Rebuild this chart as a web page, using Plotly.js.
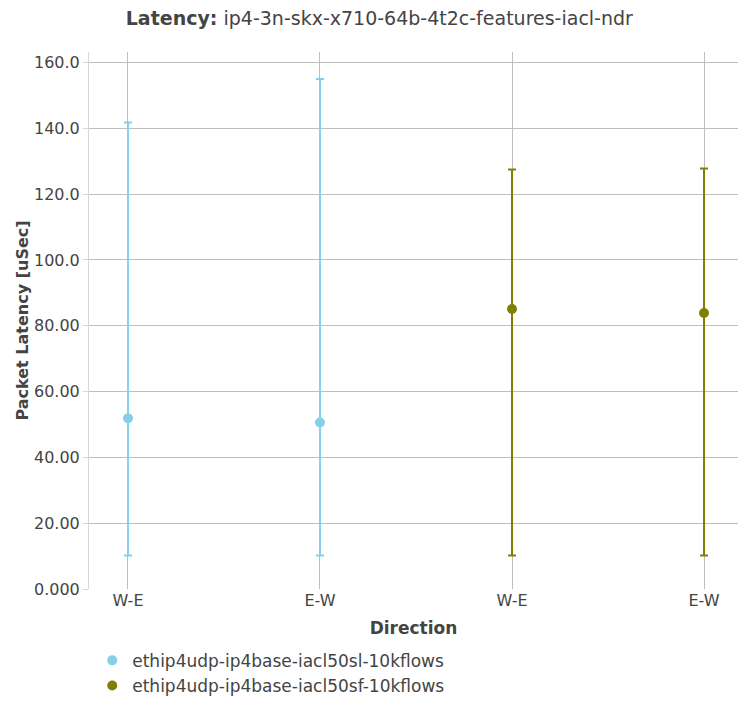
<!DOCTYPE html>
<html>
<head>
<meta charset="utf-8">
<script src="https://cdn.plot.ly/plotly-3.0.1.min.js"></script>
<style>html,body{margin:0;padding:0;background:#fff;}</style>
</head>
<body>
<div id="chart" style="width:738px;height:701px;"></div>
<script>
// Tick labels (directions) and positions
const tickPositions = [0, 1, 2, 3];
const tickLabels = ["W-E", "E-W", "W-E", "E-W"];

// Series 1: ethip4udp-ip4base-iacl50sl-10kflows
const s1Name = "ethip4udp-ip4base-iacl50sl-10kflows";
const s1X = [0, 1];
const s1Avg = [51.9, 50.6];
const s1Max = [141.8, 155.0];
const s1Min = [10.2, 10.2];

// Series 2: ethip4udp-ip4base-iacl50sf-10kflows
const s2Name = "ethip4udp-ip4base-iacl50sf-10kflows";
const s2X = [2, 3];
const s2Avg = [85.1, 83.9];
const s2Max = [127.5, 127.8];
const s2Min = [10.2, 10.2];

function mkTrace(name, xs, avg, mx, mn, color) {
  return {
    type: "scatter",
    mode: "markers",
    name: name,
    x: xs,
    y: avg,
    marker: {color: color, size: 10},
    error_y: {
      type: "data",
      symmetric: false,
      array: mx.map((v, i) => v - avg[i]),
      arrayminus: avg.map((v, i) => v - mn[i]),
      color: color,
      thickness: 2,
      width: 4
    }
  };
}

const data = [
  mkTrace(s1Name, s1X, s1Avg, s1Max, s1Min, "#87CEEB"),
  mkTrace(s2Name, s2X, s2Avg, s2Max, s2Min, "#808000")
];

const gridC = "rgb(190,190,190)";
const F = "DejaVu Sans";
const layout = {
  width: 738,
  height: 701,
  margin: {l: 89, r: 0, t: 52, b: 112},
  paper_bgcolor: "#fff",
  plot_bgcolor: "#fff",
  font: {family: F, size: 16, color: "#444"},
  title: {
    text: "<b>Latency:</b> ip4-3n-skx-x710-64b-4t2c-features-iacl-ndr",
    font: {family: F, size: 19, color: "#444"},
    x: 0.514, xref: "container", xanchor: "center",
    y: 0.974, yref: "container", yanchor: "middle"
  },
  showlegend: true,
  legend: {
    orientation: "h",
    x: 0.005, xanchor: "left", xref: "paper",
    y: 0.083, yanchor: "top", yref: "container",
    font: {family: F, size: 17, color: "#444"}
  },
  xaxis: {
    title: {text: "<b>Direction</b>", font: {family: F, size: 17, color: "#444"}, standoff: 13},
    tickmode: "array",
    tickvals: tickPositions,
    ticktext: tickLabels,
    range: [-0.203, 3.177],
    showgrid: true,
    gridcolor: gridC,
    zeroline: false,
    showline: false,
    tickfont: {family: F, size: 16, color: "#444"}
  },
  yaxis: {
    title: {text: "<b>Packet Latency [uSec]</b>", font: {family: F, size: 16, color: "#444"}},
    range: [0, 163.2],
    dtick: 20,
    tickformat: ".4r",
    showgrid: true,
    gridcolor: gridC,
    zeroline: false,
    showline: true,
    linecolor: "rgb(215,215,215)",
    ticks: "outside",
    ticklen: 5,
    tickcolor: "rgb(215,215,215)",
    tickfont: {family: F, size: 16, color: "#444"}
  }
};

Plotly.newPlot("chart", data, layout, {displayModeBar: false, staticPlot: true});
</script>
</body>
</html>
